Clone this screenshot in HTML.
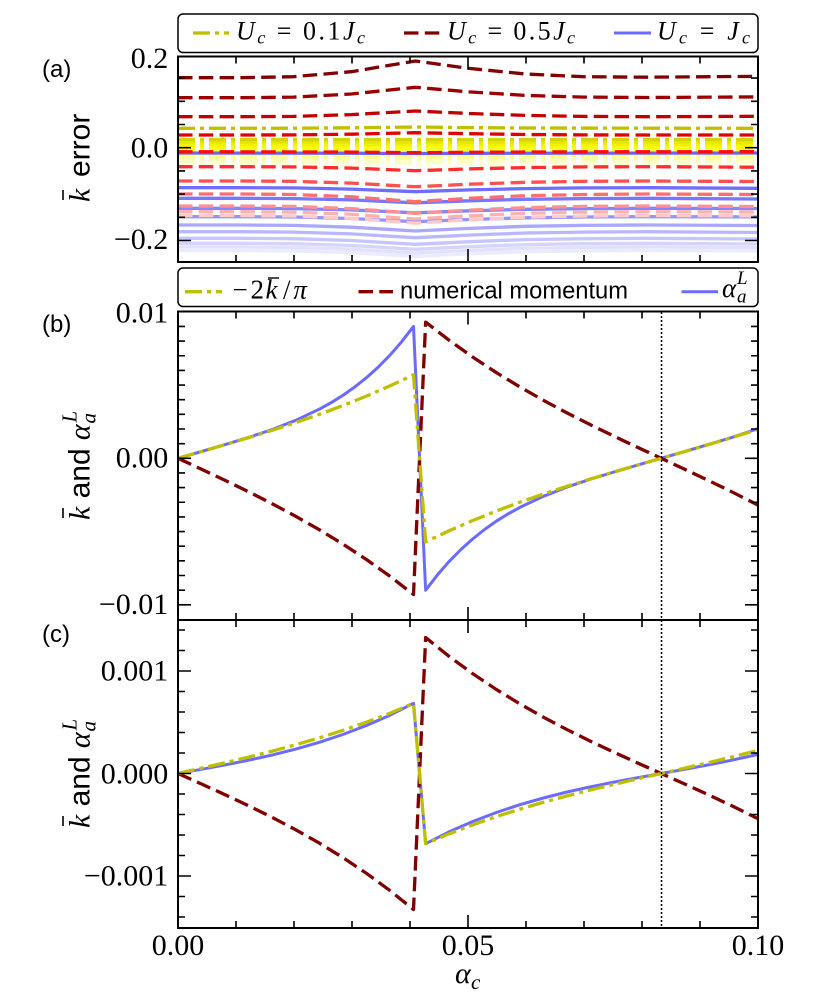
<!DOCTYPE html>
<html><head><meta charset="utf-8"><style>body{margin:0;background:#fff}svg{display:block}
.s{font-family:"Liberation Serif",serif}.ss{font-family:"Liberation Sans",sans-serif}.i{font-style:italic}</style></head>
<body>
<svg width="830" height="998" viewBox="0 0 830 998" xmlns="http://www.w3.org/2000/svg">
<defs>
<clipPath id="ca"><rect x="178" y="56.5" width="580" height="205.5"/></clipPath>
<clipPath id="cb"><rect x="178" y="311.5" width="580" height="308.5"/></clipPath>
<clipPath id="cc"><rect x="178" y="620" width="580" height="308"/></clipPath>
</defs>
<rect width="830" height="998" fill="#fff"/>

<!-- Panel a lines -->
<g clip-path="url(#ca)" fill="none" stroke-width="3.3">
<g stroke-dasharray="17 5 4 5">
<polyline stroke="#bfbf00" points="178,128.3 293.4,128.2 351.4,127.8 415.2,127 469.2,127.6 525.4,128 758,128.3"/>
<polyline stroke="#ffffe0" points="178,164.5 758,164.5"/>
<polyline stroke="#ffffc8" points="178,161.5 758,161.5"/>
<polyline stroke="#ffffaa" points="178,158.5 758,158.5"/>
<polyline stroke="#ffff88" points="178,155.5 758,155.5"/>
<polyline stroke="#ffff60" points="178,152.5 758,152.5"/>
<polyline stroke="#ffff30" points="178,149.5 758,149.5"/>
<polyline stroke="#fafa10" points="178,147 758,147"/>
<polyline stroke="#f2f200" points="178,144.5 758,144.5"/>
<polyline stroke="#e6e600" points="178,142 758,142"/>
<polyline stroke="#d4d400" points="178,139.5 758,139.5"/>
</g>
<g>
<polyline stroke="#ebebff" points="178,250.5 241.2,250.5 293.4,250.9 351.4,252.7 415.2,256.5 469.2,253.9 525.4,251.8 583.4,250.9 647.2,250.5 758,251"/>
<polyline stroke="#e0e0ff" points="178,247 241.2,247 293.4,247.4 351.4,249.2 415.2,253 469.2,250.4 525.4,248.3 583.4,247.4 647.2,247 758,247.6"/>
<polyline stroke="#d4d4ff" points="178,243.3 241.2,243.3 293.4,243.7 351.4,245.5 415.2,249.3 469.2,246.7 525.4,244.6 583.4,243.7 647.2,243.3 758,244"/>
<polyline stroke="#c6c6ff" points="178,238.3 241.2,238.3 293.4,238.7 351.4,240.5 415.2,244.3 469.2,241.7 525.4,239.6 583.4,238.7 647.2,238.3 758,239"/>
<polyline stroke="#b8b8ff" points="178,231.7 241.2,231.7 293.4,232.1 351.4,233.9 415.2,237.7 469.2,235.1 525.4,233 583.4,232.1 647.2,231.7 758,232.5"/>
<polyline stroke="#a8a8ff" points="178,225 241.2,225 293.4,225.4 351.4,227.2 415.2,231 469.2,228.4 525.4,226.3 583.4,225.4 647.2,225 758,225.5"/>
<polyline stroke="#9494ff" points="178,216.7 241.2,216.7 293.4,217 351.4,218.5 415.2,221.7 469.2,219.5 525.4,217.8 583.4,217 647.2,216.7 758,216.9"/>
<polyline stroke="#8585ff" points="178,208.3 241.2,208.3 293.4,208.6 351.4,209.9 415.2,212.8 469.2,210.8 525.4,209.3 583.4,208.6 647.2,208.3 758,208.5"/>
<polyline stroke="#7676ff" points="178,198.3 241.2,198.3 293.4,198.6 351.4,199.9 415.2,202.8 469.2,200.8 525.4,199.3 583.4,198.6 647.2,198.3 758,199"/>
<polyline stroke="#6d6dff" points="178,187.7 241.2,187.7 293.4,187.9 351.4,189.1 415.2,191.7 469.2,189.9 525.4,188.6 583.4,187.9 647.2,187.7 758,188.3"/>
<polyline stroke="#6666ff" points="178,153 351.4,153.2 415.2,153.5 469.2,153.3 758,153"/>
</g>
<g stroke-dasharray="14.5 6.3">
<polyline stroke="#800000" points="178,77.7 241.2,77.7 293.4,76.7 351.4,71.7 415.2,61 469.2,68.4 525.4,74 583.4,76.7 647.2,77.2 758,76.3"/>
<polyline stroke="#9b0000" points="178,97.7 241.2,97.7 293.4,97.1 351.4,94 415.2,87.3 469.2,91.9 525.4,95.4 583.4,97.1 647.2,97.5 758,96.9"/>
<polyline stroke="#c00000" points="178,116.7 241.2,116.7 293.4,116.4 351.4,114.6 415.2,111 469.2,113.5 525.4,115.4 583.4,116.4 647.2,116.7 758,116.3"/>
<polyline stroke="#e00000" points="178,135 241.2,135 293.4,134.9 351.4,134.2 415.2,132.7 469.2,133.7 525.4,134.5 583.4,134.9 647.2,135 758,135"/>
<polyline stroke="#ff0a0a" points="178,151.7 351.4,152.1 415.2,152.7 469.2,152.3 583.4,151.8 758,151.7"/>
<polyline stroke="#ff2e2e" points="178,166.7 241.2,166.7 293.4,166.9 351.4,168.1 415.2,170.7 469.2,168.9 525.4,167.6 583.4,166.9 647.2,166.7 758,167.2"/>
<polyline stroke="#ff5050" points="178,181 241.2,181 293.4,181.3 351.4,183.1 415.2,186.7 469.2,184.2 525.4,182.3 583.4,181.3 647.2,181 758,181.5"/>
<polyline stroke="#ff6e6e" points="178,194 241.2,194 293.4,194.5 351.4,196.8 415.2,201.7 469.2,198.3 525.4,195.7 583.4,194.5 647.2,194 758,194.5"/>
<polyline stroke="#ff9090" points="178,206 241.2,206 293.4,206.4 351.4,208.6 415.2,213.3 469.2,210.1 525.4,207.6 583.4,206.4 647.2,206 758,206.5"/>
<polyline stroke="#ffb0b0" points="178,211.7 241.2,211.7 293.4,212.1 351.4,214.3 415.2,219 469.2,215.8 525.4,213.3 583.4,212.1 647.2,211.7 758,212"/>
<polyline stroke="#ffcaca" points="178,215.5 241.2,215.5 293.4,216 351.4,218.3 415.2,223.2 469.2,219.8 525.4,217.2 583.4,216 647.2,215.5 758,215.8"/>
</g>
</g>

<!-- Panel b lines -->
<g clip-path="url(#cb)" fill="none" stroke-width="3.3" stroke-linejoin="round">
<polyline stroke="#6b6bff" stroke-width="3" points="178,458.3 201.55,451.5 225.1,444.6 248.65,437.4 272.2,429.5 295.75,420.3 319.3,409.2 331.1,402.7 342.85,395.4 354.6,387.1 366.4,377.7 378.2,367.1 389.95,355.2 401.7,341.7 413.5,326.4 425.64,590.2 437.44,574.9 449.19,561.4 460.94,549.5 472.74,538.9 484.54,529.5 496.29,521.2 508.04,513.9 519.84,507.4 543.39,496.3 566.94,487.1 590.49,479.2 614.04,472 637.59,465.1 661.14,458.3 684.69,451.5 708.24,444.6 731.79,437.4 755.34,429.5 758,428.5"/>
<polyline stroke="#800000" stroke-dasharray="14.5 6.3" points="178,458.3 201.55,469.26 225.1,480.38 248.65,491.82 272.2,503.74 295.75,516.31 319.3,529.69 342.85,544.04 366.4,559.51 389.95,576.28 413.5,594.5 425.64,322.1 449.19,340.32 472.74,357.09 496.29,372.56 519.84,386.91 543.39,400.29 566.94,412.86 590.49,424.78 614.04,436.22 637.59,447.34 661.14,458.3 684.69,469.26 708.24,480.38 731.79,491.82 755.34,503.74 758,505.1"/>
<polyline stroke="#bfbf00" stroke-dasharray="17 5 4 5" points="178,458.3 201.55,451.53 225.1,444.67 248.65,437.62 272.2,430.28 295.75,422.55 319.3,414.34 342.85,405.56 366.4,396.11 389.95,385.89 413.5,374.8 425.64,541.8 449.19,530.71 472.74,520.49 496.29,511.04 519.84,502.26 543.39,494.05 566.94,486.32 590.49,478.98 614.04,471.93 637.59,465.07 661.14,458.3 684.69,451.53 708.24,444.67 731.79,437.62 755.34,430.28 758,429.45"/>
</g>

<!-- Panel c lines -->
<g clip-path="url(#cc)" fill="none" stroke-width="3.3" stroke-linejoin="round">
<polyline stroke="#6b6bff" stroke-width="3" points="178,773.5 201.55,769.3 225.1,764.9 248.65,760.2 272.2,755 295.75,749.05 319.3,742.3 342.85,734.5 366.4,725.5 389.95,715.2 413.5,703.3 425.64,843.7 449.19,831.8 472.74,821.5 496.29,812.5 519.84,804.7 543.39,798 566.94,792 590.49,786.8 614.04,782.1 637.59,777.7 661.14,773.5 684.69,769.3 708.24,764.9 731.79,760.2 755.34,755 758,754.35"/>
<polyline stroke="#800000" stroke-dasharray="14.5 6.3" points="178,773.5 201.55,784.01 225.1,794.71 248.65,805.78 272.2,817.42 295.75,829.8 319.3,843.12 342.85,857.56 366.4,873.31 389.95,890.56 413.5,909.5 425.64,637.5 449.19,656.44 472.74,673.69 496.29,689.44 519.84,703.88 543.39,717.2 566.94,729.58 590.49,741.22 614.04,752.29 637.59,762.99 661.14,773.5 684.69,784.01 708.24,794.71 731.79,805.78 755.34,817.42 758,818.7"/>
<polyline stroke="#bfbf00" stroke-dasharray="17 5 4 5" points="178,773.5 201.55,768.15 225.1,762.7 248.65,757.05 272.2,751.1 295.75,744.74 319.3,737.87 342.85,730.39 366.4,722.21 389.95,713.21 413.5,703.3 425.64,843.7 449.19,833.79 472.74,824.79 496.29,816.61 519.84,809.13 543.39,802.26 566.94,795.9 590.49,789.95 614.04,784.3 637.59,778.85 661.14,773.5 684.69,768.15 708.24,762.7 731.79,757.05 755.34,751.1 758,750.4"/>
</g>

<!-- dotted vertical -->
<line x1="661.5" y1="312" x2="661.5" y2="928" stroke="#000" stroke-width="1.5" stroke-dasharray="2 2"/>

<!-- ticks -->
<g stroke="#000" stroke-width="1.6" fill="none">
<path d="M236 56.5v7M294 56.5v7M352 56.5v7M410 56.5v7M526 56.5v7M584 56.5v7M642 56.5v7M700 56.5v7M468 56.5v13
M236 262v-7M294 262v-7M352 262v-7M410 262v-7M526 262v-7M584 262v-7M642 262v-7M700 262v-7M468 262v-13
M178 78.1h7M178 101.3h7M178 124.5h7M178 170.9h7M178 194.1h7M178 217.3h7M178 147.7h13M178 240.5h13
M758 78.1h-7M758 101.3h-7M758 124.5h-7M758 170.9h-7M758 194.1h-7M758 217.3h-7M758 147.7h-13M758 240.5h-13"/>
<path d="M236 311.5v7M294 311.5v7M352 311.5v7M410 311.5v7M526 311.5v7M584 311.5v7M642 311.5v7M700 311.5v7M468 311.5v13
M236 620v-7M294 620v-7M352 620v-7M410 620v-7M526 620v-7M584 620v-7M642 620v-7M700 620v-7M468 620v-13
M178 326.45h7M178 341.1h7M178 355.75h7M178 370.4h7M178 385.05h7M178 399.7h7M178 414.35h7M178 429h7M178 443.65h7M178 472.95h7M178 487.6h7M178 502.25h7M178 516.9h7M178 531.55h7M178 546.2h7M178 560.85h7M178 575.5h7M178 590.15h7M178 458.3h13M178 604.8h13
M758 326.45h-7M758 341.1h-7M758 355.75h-7M758 370.4h-7M758 385.05h-7M758 399.7h-7M758 414.35h-7M758 429h-7M758 443.65h-7M758 472.95h-7M758 487.6h-7M758 502.25h-7M758 516.9h-7M758 531.55h-7M758 546.2h-7M758 560.85h-7M758 575.5h-7M758 590.15h-7M758 458.3h-13M758 604.8h-13"/>
<path d="M236 620v7M294 620v7M352 620v7M410 620v7M526 620v7M584 620v7M642 620v7M700 620v7M468 620v13
M236 928v-7M294 928v-7M352 928v-7M410 928v-7M526 928v-7M584 928v-7M642 928v-7M700 928v-7M468 928v-13
M178 630h7M178 650.5h7M178 691.5h7M178 712h7M178 732.5h7M178 753h7M178 794h7M178 814.5h7M178 835h7M178 855.5h7M178 896.5h7M178 917h7M178 671h13M178 773.5h13M178 876h13
M758 630h-7M758 650.5h-7M758 691.5h-7M758 712h-7M758 732.5h-7M758 753h-7M758 794h-7M758 814.5h-7M758 835h-7M758 855.5h-7M758 896.5h-7M758 917h-7M758 671h-13M758 773.5h-13M758 876h-13"/>
</g>

<!-- frames -->
<g fill="none" stroke="#000" stroke-width="2">
<rect x="178" y="56.5" width="580" height="205.5"/>
<rect x="178" y="311.5" width="580" height="308.5"/>
<rect x="178" y="620" width="580" height="308"/>
</g>

<!-- tick labels -->
<g class="s" font-size="30" text-anchor="end" fill="#000">
<text x="168.3" y="68">0.2</text>
<text x="168.3" y="157.5">0.0</text>
<text x="168.3" y="249">−0.2</text>
<text x="168.3" y="322.7">0.01</text>
<text x="168.3" y="467.3">0.00</text>
<text x="168.3" y="614">−0.01</text>
<text x="168.3" y="680.5">0.001</text>
<text x="168.3" y="783.3">0.000</text>
<text x="168.3" y="885.7">−0.001</text>
</g>
<g class="s" font-size="30" text-anchor="middle" fill="#000">
<text x="178" y="955">0.00</text>
<text x="468" y="955">0.05</text>
<text x="758" y="955">0.10</text>
</g>

<!-- x label -->
<text class="s i" x="455" y="983" font-size="30">α</text>
<text class="s i" x="471" y="989" font-size="21">c</text>

<!-- panel letters -->
<g class="ss" font-size="24" fill="#000">
<text x="42" y="77">(a)</text>
<text x="42" y="332">(b)</text>
<text x="42" y="642">(c)</text>
</g>

<!-- y labels -->
<g transform="translate(89.5,158) rotate(-90)">
<text class="s i" x="-44" y="0" font-size="30">k</text>
<line x1="-42" y1="-26.5" x2="-32" y2="-26.5" stroke="#000" stroke-width="1.6"/>
<text class="ss" x="-19" y="0" font-size="30">error</text>
</g>
<g transform="translate(89.5,466) rotate(-90)">
<text class="s i" x="-54" y="0" font-size="30">k</text>
<line x1="-52" y1="-26.5" x2="-42" y2="-26.5" stroke="#000" stroke-width="1.6"/>
<text class="ss" x="-32.4" y="0" font-size="30">and</text>
<text class="s i" x="25.9" y="0" font-size="30">α</text>
<text class="s i" x="42.5" y="6" font-size="21">a</text>
<text class="s i" x="43.5" y="-13" font-size="21">L</text>
</g>
<g transform="translate(89.5,774) rotate(-90)">
<text class="s i" x="-54" y="0" font-size="30">k</text>
<line x1="-52" y1="-26.5" x2="-42" y2="-26.5" stroke="#000" stroke-width="1.6"/>
<text class="ss" x="-32.4" y="0" font-size="30">and</text>
<text class="s i" x="25.9" y="0" font-size="30">α</text>
<text class="s i" x="42.5" y="6" font-size="21">a</text>
<text class="s i" x="43.5" y="-13" font-size="21">L</text>
</g>

<!-- legend a -->
<rect x="178" y="14" width="580" height="38.5" rx="5" fill="#fff" stroke="#000" stroke-width="1.5"/>
<line x1="193" y1="33" x2="229" y2="33" stroke="#bfbf00" stroke-width="3.3" stroke-dasharray="17 5 4 5"/>
<line x1="404" y1="33" x2="440" y2="33" stroke="#800000" stroke-width="3.3" stroke-dasharray="14.5 6.3"/>
<line x1="614" y1="33" x2="651" y2="33" stroke="#6b6bff" stroke-width="3"/>
<text class="s" x="236" y="39.5" font-size="26" textLength="129" lengthAdjust="spacing"><tspan class="i">U</tspan><tspan class="i" font-size="18" dy="4">c</tspan><tspan dy="-4"> = 0.1</tspan><tspan class="i">J</tspan><tspan class="i" font-size="18" dy="4">c</tspan></text>
<text class="s" x="447" y="39.5" font-size="26" textLength="128" lengthAdjust="spacing"><tspan class="i">U</tspan><tspan class="i" font-size="18" dy="4">c</tspan><tspan dy="-4"> = 0.5</tspan><tspan class="i">J</tspan><tspan class="i" font-size="18" dy="4">c</tspan></text>
<text class="s" x="657" y="39.5" font-size="26" textLength="93" lengthAdjust="spacing"><tspan class="i">U</tspan><tspan class="i" font-size="18" dy="4">c</tspan><tspan dy="-4"> = </tspan><tspan class="i">J</tspan><tspan class="i" font-size="18" dy="4">c</tspan></text>

<!-- legend b -->
<rect x="178" y="268" width="580" height="38.5" rx="5" fill="#fff" stroke="#000" stroke-width="1.5"/>
<line x1="185" y1="291.7" x2="222" y2="291.7" stroke="#bfbf00" stroke-width="3.3" stroke-dasharray="17 5 4 5"/>
<line x1="358.5" y1="291.7" x2="393" y2="291.7" stroke="#800000" stroke-width="3.3" stroke-dasharray="14.5 6.3"/>
<line x1="681.5" y1="291.7" x2="718" y2="291.7" stroke="#6b6bff" stroke-width="3"/>
<text class="s" x="232.5" y="298.3" font-size="27">−</text>
<text class="s" x="250.5" y="298.3" font-size="27">2</text>
<text class="s i" x="265.5" y="298.3" font-size="27">k</text>
<line x1="268" y1="278" x2="279" y2="278" stroke="#000" stroke-width="1.4"/>
<text class="s" x="283" y="298.3" font-size="27">/</text>
<text class="s i" x="293.4" y="298.3" font-size="27">π</text>
<text class="ss" x="400" y="298.3" font-size="24" textLength="228" lengthAdjust="spacingAndGlyphs">numerical momentum</text>
<text class="s i" x="722" y="297" font-size="27">α</text>
<text class="s i" x="737" y="302.5" font-size="19">a</text>
<text class="s i" x="737" y="284" font-size="19">L</text>
</svg>
</body></html>
